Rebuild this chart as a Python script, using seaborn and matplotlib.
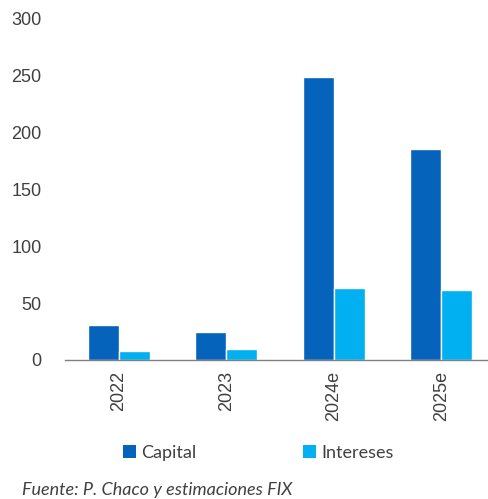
import matplotlib
matplotlib.use("Agg")
import matplotlib.pyplot as plt
import seaborn as sns
import pandas as pd
from matplotlib.patches import Patch

years = ["2022", "2023", "2024e", "2025e"]
capital = [31, 25, 249, 186]
intereses = [8, 10, 63, 62]
series_names = ["Capital", "Intereses"]
colors = ["#0563BB", "#00B0F0"]
yticks = [0, 50, 100, 150, 200, 250, 300]

df = pd.DataFrame({
    "year": years * 2,
    "value": capital + intereses,
    "serie": [series_names[0]] * len(years) + [series_names[1]] * len(years),
})

sns.set_theme(style="white")
plt.rcParams["font.family"] = ["Liberation Sans", "DejaVu Sans"]

fig = plt.figure(figsize=(4.89, 4.99), dpi=100)
ax = fig.add_axes([65/489, 139/499, 1 - 65/489 + 0.012, (360 - 19)/499])

sns.barplot(data=df, x="year", y="value", hue="serie", palette=colors,
            width=0.58, saturation=1, ax=ax, legend=False)

ax.set_ylim(0, 300)
ax.set_xlim(-0.5, 3.5)
ax.set_yticks(yticks)
ax.set_xlabel("")
ax.set_ylabel("")
for s in ["top", "right", "left"]:
    ax.spines[s].set_visible(False)
ax.spines["bottom"].set_color("#808080")
ax.spines["bottom"].set_linewidth(1.0)
ax.tick_params(axis="y", length=0, labelsize=13, labelcolor="#404040", pad=17)
ax.tick_params(axis="x", length=0, labelsize=13, labelcolor="#404040", pad=8)
for lab in ax.get_xticklabels():
    lab.set_rotation(90)

handles = [Patch(facecolor=c, edgecolor="none") for c in colors]
fig.legend(handles, series_names, loc="center", bbox_to_anchor=(0.528, 1 - 453/499),
           ncol=2, frameon=False, handlelength=0.7, handleheight=0.7,
           handletextpad=0.3, columnspacing=5.9,
           prop={"family": "Lato", "size": 13}, labelcolor="#404040")

fig.text(22/489, 1 - 490/499, "Fuente: P. Chaco y estimaciones FIX",
         family="Lato", style="italic", fontsize=13, color="#404040",
         ha="left", va="center")

fig.savefig("out.png", dpi=100)
